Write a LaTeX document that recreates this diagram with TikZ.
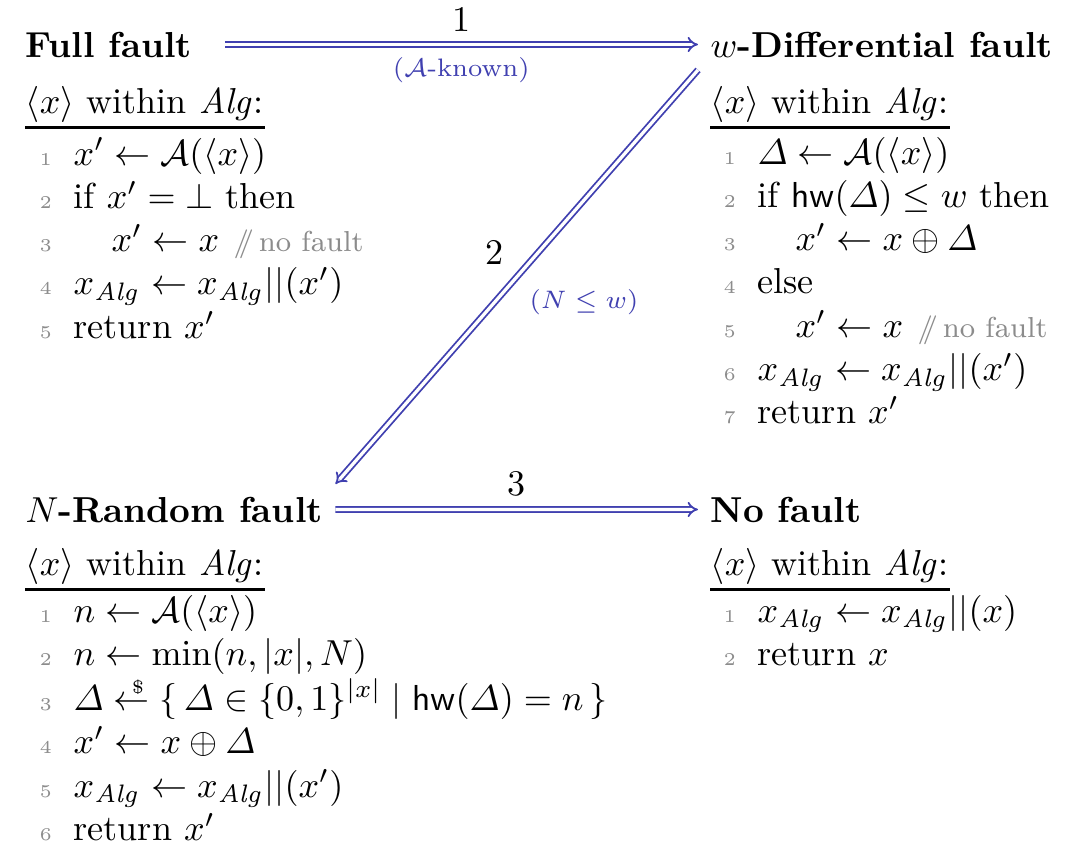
\documentclass[tikz,border=0pt]{standalone}
\usepackage{amsmath,amssymb}
\usetikzlibrary{arrows}
\definecolor{arrblue}{RGB}{64,64,176}
\definecolor{lngray}{RGB}{140,140,140}
\newcommand{\lno}[1]{{\tiny\color{lngray}#1}}
\newcommand{\cmt}[1]{\hspace{4pt}{\footnotesize\color{lngray}$/\!\!/$\,#1}}
\newcommand{\ind}{\hspace{10.5pt}}
\newcommand{\xalg}{x_{\mathit{Alg}}}
\newcommand{\smpl}{\mathrel{\ooalign{$\leftarrow$\cr\hfil\smash{\raisebox{4.6pt}{$\scriptscriptstyle\$$}}\hspace{1.6pt}\cr}}}
\tikzset{
  title/.style={anchor=base west, inner sep=3.33pt},
  hdr/.style={anchor=base west, inner sep=0pt},
  code/.style={anchor=base west, inner sep=0pt},
  hrule/.style={line width=0.6pt},
  dbl/.style={draw=arrblue, double, double distance=0.9pt, line width=0.5pt, -implies},
  lbl/.style={text=arrblue, font=\scriptsize},
}
\begin{document}
\begin{tikzpicture}[x=0.277pt, y=-0.277pt]
\useasboundingbox (0,0) rectangle (1082,844);

% titles
\node[title] (full) at (13,57) {\textbf{Full fault}};
\node[title] (wdiff) at (698,57) {\textbf{$w$-Differential fault}};
\node[title] (random) at (13,522) {\textbf{$N$-Random fault}};
\node[title] (nofault) at (698,522) {\textbf{No fault}};

% headers
\node[hdr] (fullH) at (25,113) {$\langle x\rangle$ within $\mathit{Alg}$:};
\node[hdr] (wdiffH) at (710,113) {$\langle x\rangle$ within $\mathit{Alg}$:};
\node[hdr] (randomH) at (25,575) {$\langle x\rangle$ within $\mathit{Alg}$:};
\node[hdr] (nofaultH) at (710,575) {$\langle x\rangle$ within $\mathit{Alg}$:};
\foreach \h in {fullH,wdiffH,randomH,nofaultH}
  \draw[hrule] ([yshift=-4pt]\h.base west) -- ([yshift=-4pt]\h.base east);

% code
\node[code] (fullC) at (39,165) {\begin{tabular}[t]{@{}r@{\hspace{6pt}}l@{}}
\lno1 & $x' \leftarrow \mathcal{A}(\langle x\rangle)$\\
\lno2 & if $x' = \bot$ then\\
\lno3 & \ind$x' \leftarrow x$\cmt{no fault}\\
\lno4 & $\xalg \leftarrow \xalg || (x')$\\
\lno5 & return $x'$
\end{tabular}};

\node[code] (wdiffC) at (723,164) {\begin{tabular}[t]{@{}r@{\hspace{6pt}}l@{}}
\lno1 & $\varDelta \leftarrow \mathcal{A}(\langle x\rangle)$\\
\lno2 & if $\mathsf{hw}(\varDelta) \leq w$ then\\
\lno3 & \ind$x' \leftarrow x \oplus \varDelta$\\
\lno4 & else\\
\lno5 & \ind$x' \leftarrow x$\cmt{no fault}\\
\lno6 & $\xalg \leftarrow \xalg || (x')$\\
\lno7 & return $x'$
\end{tabular}};

\node[code] (randomC) at (39,622) {\begin{tabular}[t]{@{}r@{\hspace{6pt}}l@{}}
\lno1 & $n \leftarrow \mathcal{A}(\langle x\rangle)$\\
\lno2 & $n \leftarrow \min(n, |x|, N)$\\
\lno3 & $\varDelta \smpl \{\, \varDelta \in \{0,1\}^{|x|} \mid \mathsf{hw}(\varDelta) = n \,\}$\\
\lno4 & $x' \leftarrow x \oplus \varDelta$\\
\lno5 & $\xalg \leftarrow \xalg || (x')$\\
\lno6 & return $x'$
\end{tabular}};

\node[code] (nofaultC) at (723,622) {\begin{tabular}[t]{@{}r@{\hspace{6pt}}l@{}}
\lno1 & $\xalg \leftarrow \xalg || (x)$\\
\lno2 & return $x$
\end{tabular}};

% arrows
\draw[dbl, shorten <=5.6pt] (full) -- (wdiff)
  node[pos=0.52, above, text=black, font=\normalsize] (l1) {1}
  node[pos=0.52, below, lbl] (l1b) {($\mathcal{A}$-known)};
\draw[dbl] (wdiff.south west) -- (random.north east)
  node[midway, above left, text=black, font=\normalsize] (l2) {2}
  node[midway, below right, lbl] (l2b) {$(N \leq w)$};
\draw[dbl] (random) -- (nofault)
  node[midway, above, text=black, font=\normalsize] (l3) {3};
\end{tikzpicture}
\end{document}
